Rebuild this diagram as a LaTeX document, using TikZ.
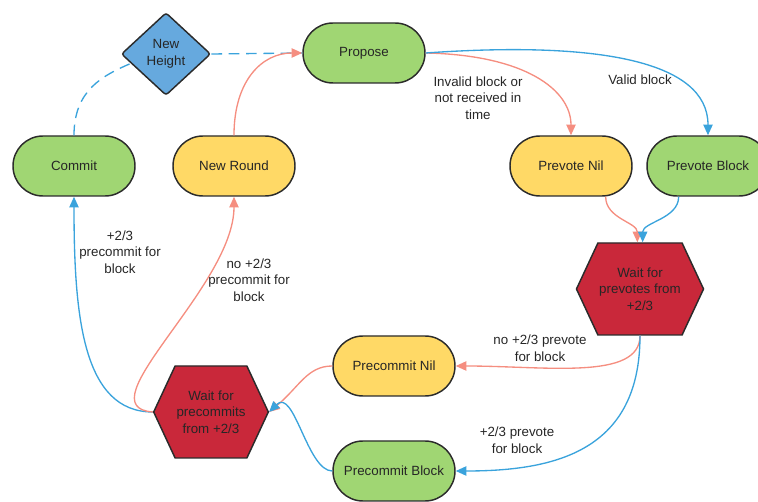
\documentclass[tikz,border=0pt]{standalone}
\usepackage{fontspec}
\setmainfont{Liberation Sans}
\usetikzlibrary{shapes.misc, shapes.geometric, shapes.symbols, arrows.meta}

\definecolor{stgreen}{HTML}{A0D673}
\definecolor{styellow}{HTML}{FFD966}
\definecolor{stred}{HTML}{C9283A}
\definecolor{stblue}{HTML}{66A9DE}
\definecolor{pinkline}{HTML}{F58E80}
\definecolor{blueline}{HTML}{3AA3DC}
\definecolor{edgegray}{HTML}{2B2B2B}

\begin{document}
\begin{tikzpicture}[x=0.75pt, y=-0.75pt,
	every node/.style={font=\fontsize{10}{12.4}\selectfont, text=black!85},
	state/.style={rounded rectangle, draw=edgegray, line width=1.1pt,
		minimum width=91.5pt, minimum height=45pt, inner sep=0pt},
	waitbox/.style={signal, signal to=east and west, signal from=nowhere,
		signal pointer angle=130, draw=edgegray, line width=1.1pt, fill=stred,
		minimum width=86pt, minimum height=69pt, inner sep=1pt, align=center},
	lbl/.style={align=center, inner sep=0pt},
	pink/.style={draw=pinkline, line width=1pt, -{Triangle[length=8pt, width=7pt]}},
	blue/.style={draw=blueline, line width=1pt, -{Triangle[length=8pt, width=7pt]}}]
	%\draw[help lines] (0,0) grid[step=50] (758,502);
	\useasboundingbox (0,0) rectangle (758,502);

	\node (height) [diamond, draw=edgegray, line width=1.1pt, fill=stblue, rounded corners=2pt,
		minimum width=67pt, minimum height=62pt, inner sep=0pt, align=center] at (166,54) {New\\Height};
	\node (propose) [state, fill=stgreen] at (364,53) {Propose};
	\node (commit) [state, fill=stgreen] at (74,166) {Commit};
	\node (newround) [state, fill=styellow] at (234,166) {New Round};
	\node (prevnil) [state, fill=styellow] at (571,166) {Prevote Nil};
	\node (prevblk) [state, fill=stgreen] at (708,166) {Prevote Block};
	\node (waitpv) [waitbox] at (640,289) {Wait for\\prevotes from\\+2/3};
	\node (precnil) [state, fill=styellow] at (394,366) {Precommit Nil};
	\node (precblk) [state, fill=stgreen] at (394,471) {Precommit Block};
	\node (waitpc) [waitbox] at (211,412) {Wait for\\precommits\\from +2/3};

	\node (lbinvalid) [lbl] at (478,98) {Invalid block or\\not received in\\time};
	\node (lbvalid) [lbl] at (640,80) {Valid block};
	\node (lbnopv) [lbl] at (540,348) {no +2/3 prevote\\for block};
	\node (lbpv) [lbl] at (517,440) {+2/3 prevote\\for block};
	\node (lbpc) [lbl] at (120,252) {+2/3\\precommit for\\block};
	\node (lbnopc) [lbl] at (249,280) {no +2/3\\precommit for\\block};

	% dashed path to the next height
	\draw [blueline, line width=1pt, dash pattern=on 8pt off 5pt] (commit.north) .. controls +(0,-45) and +(-28,12) .. (height.195);
	\draw [blueline, line width=1pt, dash pattern=on 8pt off 5pt] (height.east) -- (propose.west);
	\draw [pink] (newround.north) .. controls +(0,-55) and +(-40,0) .. (propose.west);

	\draw [pink] (propose.east) .. controls +(100,2) and +(0,-45) .. (prevnil.north);
	\draw [blue] (propose.east) .. controls +(170,-12) and +(0,-75) .. (prevblk.north);
	\draw [pink] ([xshift=26pt]prevnil.south) .. controls +(0,22) and +(0,-20) .. ([xshift=-2pt]waitpv.north);
	\draw [blue] ([xshift=-22pt]prevblk.south) .. controls +(0,22) and +(0,-20) .. ([xshift=2pt]waitpv.north);

	\draw [pink] (waitpv.south) .. controls +(0,45) and +(90,0) .. (precnil.east);
	\draw [blue] (waitpv.south) .. controls +(0,115) and +(100,0) .. (precblk.east);
	\draw [pink] (precnil.west) .. controls +(-25,0) and +(30,-25) .. (waitpc.east);
	\draw [blue] (precblk.west) .. controls +(-25,0) and +(25,-25) .. (waitpc.east);

	\draw [blue] (waitpc.west) .. controls +(-70,0) and +(0,120) .. (commit.south);
	\draw [pink] (waitpc.west) .. controls +(-70,-5) and +(0,90) .. (newround.south);
\end{tikzpicture}
\end{document}
